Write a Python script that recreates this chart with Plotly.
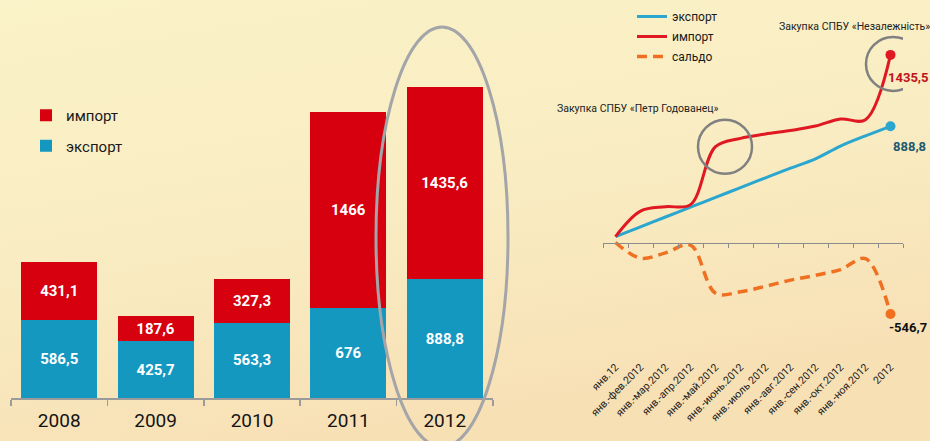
import base64
import plotly.graph_objects as go

# ---------------- data ----------------
years = ["2008", "2009", "2010", "2011", "2012"]
export_year = [586.5, 425.7, 563.3, 676, 888.8]
import_year = [431.1, 187.6, 327.3, 1466, 1435.6]

months = ["янв.12", "янв.-фев.2012", "янв.-мар.2012", "янв.-апр.2012",
          "янв.-май.2012", "янв.-июнь.2012", "янв.-июль 2012", "янв.-авг.2012",
          "янв.-сен.2012", "янв.-окт.2012", "янв.-ноя.2012", "2012"]
export_month = [45, 120, 195, 270, 345, 420, 495, 569, 640, 738, 816, 888.8]
import_month = [45, 240, 274, 290, 733, 797, 830, 857, 891, 945, 940, 1435.5]
saldo_month = [0, -120, -79, -20, -388, -377, -335, -288, -251, -207, -124, -546.7]

# ---------------- helpers ----------------
W, H = 930, 441


def px(x):
    return x / W


def py(y):
    return 1 - y / H


def fmt(v):
    return f"{v:g}".replace(".", ",")


FONT = "Roboto"
C_EXP_BAR = "#1598c0"
C_IMP_BAR = "#d7000f"
C_EXP = "#2ba6cf"
C_IMP = "#e01822"
C_SAL = "#f07022"

idx = list(range(len(months)))
last = len(months) - 1

fig = go.Figure()

# ---------------- left: stacked bars ----------------
fig.add_trace(go.Bar(
    x=years, y=export_year, name="экспорт", xaxis="x", yaxis="y",
    marker=dict(color=C_EXP_BAR, line=dict(width=0)),
    text=[fmt(v) for v in export_year], textposition="inside",
    insidetextanchor="middle", textangle=0,
    textfont=dict(family=FONT, size=15, color="white", weight="bold"),
    legend="legend", legendgroup="e", legendrank=2, hoverinfo="skip"))
fig.add_trace(go.Bar(
    x=years, y=import_year, name="импорт", xaxis="x", yaxis="y",
    marker=dict(color=C_IMP_BAR, line=dict(width=0)),
    text=[fmt(v) for v in import_year], textposition="inside",
    insidetextanchor="middle", textangle=0,
    textfont=dict(family=FONT, size=15, color="white", weight="bold"),
    legend="legend", legendgroup="i", legendrank=1, hoverinfo="skip"))

# ---------------- right: lines ----------------
fig.add_trace(go.Scatter(
    x=idx, y=export_month, name="экспорт", mode="lines", xaxis="x2", yaxis="y2",
    line=dict(color=C_EXP, width=3, shape="spline", smoothing=1),
    legend="legend2", legendgroup="le", legendrank=1, hoverinfo="skip"))
fig.add_trace(go.Scatter(
    x=idx, y=import_month, name="импорт", mode="lines", xaxis="x2", yaxis="y2",
    line=dict(color=C_IMP, width=3, shape="spline", smoothing=1),
    legend="legend2", legendgroup="li", legendrank=2, hoverinfo="skip"))
fig.add_trace(go.Scatter(
    x=idx, y=saldo_month, name="сальдо", mode="lines", xaxis="x3", yaxis="y2",
    line=dict(color=C_SAL, width=3.5, shape="spline", smoothing=1, dash="10px,6px"),
    legend="legend2", legendgroup="ls", legendrank=3, hoverinfo="skip"))

# end markers
for series, col, ax in [(export_month, C_EXP, "x2"), (import_month, C_IMP, "x2"),
                        (saldo_month, C_SAL, "x3")]:
    fig.add_trace(go.Scatter(
        x=[idx[last]], y=[series[last]], mode="markers", xaxis=ax, yaxis="y2",
        marker=dict(color=col, size=10), showlegend=False, hoverinfo="skip"))

# ---------------- background gradient ----------------
svg = (
    '<svg xmlns="http://www.w3.org/2000/svg" width="930" height="441" '
    'preserveAspectRatio="none">'
    '<defs><linearGradient id="g" x1="0" y1="0" x2="0.35" y2="1">'
    '<stop offset="0" stop-color="#faf2c8"/>'
    '<stop offset="0.55" stop-color="#f9ecc2"/>'
    '<stop offset="1" stop-color="#f8e0b5"/>'
    '</linearGradient></defs>'
    '<rect width="930" height="441" fill="url(#g)"/></svg>')
bg = "data:image/svg+xml;base64," + base64.b64encode(svg.encode()).decode()

k_left = 0.1336   # px per unit
k_right = 0.1307
base_left = 398
zero_right = 242.5
bottom_right = 358

fig.update_layout(
    template="none",
    width=W, height=H, autosize=False,
    margin=dict(l=0, r=0, t=0, b=0, pad=0, autoexpand=False),
    paper_bgcolor="#f9ebc1", plot_bgcolor="rgba(0,0,0,0)",
    font=dict(family=FONT, color="#1a1a1a"),
    barmode="stack", bargap=0.21,
    images=[dict(source=bg, xref="paper", yref="paper", x=0, y=1,
                 sizex=1, sizey=1, sizing="stretch", layer="below",
                 xanchor="left", yanchor="top")],
    xaxis=dict(domain=[px(11), px(493)], anchor="y", type="category",
               automargin=False,
               showline=True, linecolor="#9b9b9b", linewidth=1.5,
               ticks="outside", tickson="boundaries", ticklen=6,
               tickcolor="#9b9b9b", tickwidth=1.5,
               tickfont=dict(family=FONT, size=19, color="#141414"),
               ticklabelstandoff=5, showgrid=False, zeroline=False),
    yaxis=dict(domain=[py(base_left), 1], range=[0, base_left / k_left],
               visible=False, showgrid=False, zeroline=False, automargin=False),
    xaxis2=dict(domain=[px(603), px(903)], anchor="y2", range=[-0.5, last + 0.5],
                automargin=False,
                tickmode="array", tickvals=idx, ticktext=months, tickangle=-45,
                tickfont=dict(family=FONT, size=10.5, color="#222"),
                showline=False, showgrid=False, zeroline=False, ticks=""),
    xaxis3=dict(domain=[px(603), px(903)], overlaying="x2", anchor="free",
                automargin=False,
                position=py(zero_right), range=[-0.5, last + 0.5],
                tickmode="array", tickvals=[i - 0.5 for i in range(len(months) + 1)],
                ticks="outside", ticklen=4, tickcolor="#8c8c8c", tickwidth=1,
                showline=True, linecolor="#8c8c8c", linewidth=1,
                showticklabels=False, showgrid=False, zeroline=False),
    yaxis2=dict(domain=[py(bottom_right), 1], automargin=False,
                range=[-(bottom_right - zero_right) / k_right, zero_right / k_right],
                visible=False, showgrid=False, zeroline=False),
    legend=dict(x=px(26), y=py(99), xanchor="left", yanchor="top",
                bgcolor="rgba(0,0,0,0)", borderwidth=0,
                font=dict(family=FONT, size=15, color="#1a1a1a"),
                tracegroupgap=8, traceorder="grouped"),
    legend2=dict(x=px(632), y=py(2), xanchor="left", yanchor="top",
                 bgcolor="rgba(0,0,0,0)", borderwidth=0,
                 font=dict(family=FONT, size=12, color="#1a1a1a"),
                 tracegroupgap=1, traceorder="grouped"),
    showlegend=True,
)

# ---------------- callouts ----------------
shapes = [
    dict(type="circle", xref="paper", yref="paper",
         x0=px(376), x1=px(508), y0=py(447), y1=py(27),
         line=dict(color="#a3a5a8", width=3), layer="above"),
    dict(type="circle", xref="x2", yref="y2", xsizemode="pixel", ysizemode="pixel",
         xanchor=4.38, yanchor=import_month[4], x0=-27, x1=27, y0=-27, y1=27,
         line=dict(color="#808080", width=2.5)),
    dict(type="circle", xref="x2", yref="y2", xsizemode="pixel", ysizemode="pixel",
         xanchor=11.1, yanchor=import_month[last], x0=-27, x1=27, y0=-36, y1=18,
         line=dict(color="#808080", width=2.5)),
]
fig.update_layout(shapes=shapes)

annotations = [
    dict(text="Закупка СПБУ «Незалежність»", xref="paper", yref="paper",
         x=px(854), y=py(27), showarrow=False, xanchor="center", yanchor="middle",
         font=dict(family=FONT, size=10.5, color="#222")),
    dict(text="Закупка СПБУ «Петр Годованец»", xref="paper", yref="paper",
         x=px(638), y=py(109), showarrow=False, xanchor="center", yanchor="middle",
         font=dict(family=FONT, size=10.5, color="#222")),
    dict(text=fmt(import_month[last]), xref="x2", yref="y2", x=idx[last],
         y=import_month[last], xanchor="left", yanchor="middle", xshift=-5, yshift=-23,
         showarrow=False, font=dict(family=FONT, size=13, color="#c0121c", weight="bold")),
    dict(text=fmt(export_month[last]), xref="x2", yref="y2", x=idx[last],
         y=export_month[last], xanchor="left", yanchor="middle", xshift=0, yshift=-20,
         showarrow=False, font=dict(family=FONT, size=13, color="#1e5a70", weight="bold")),
    dict(text=fmt(saldo_month[last]), xref="x3", yref="y2", x=idx[last],
         y=saldo_month[last], xanchor="left", yanchor="middle", xshift=-4, yshift=-14,
         showarrow=False, font=dict(family=FONT, size=13, color="#111", weight="bold")),
]
fig.update_layout(annotations=annotations)

fig.write_html("out.html",
               config={"displayModeBar": False, "staticPlot": True},
               post_script="document.body.style.margin='0';"
                           "document.body.style.padding='0';")
